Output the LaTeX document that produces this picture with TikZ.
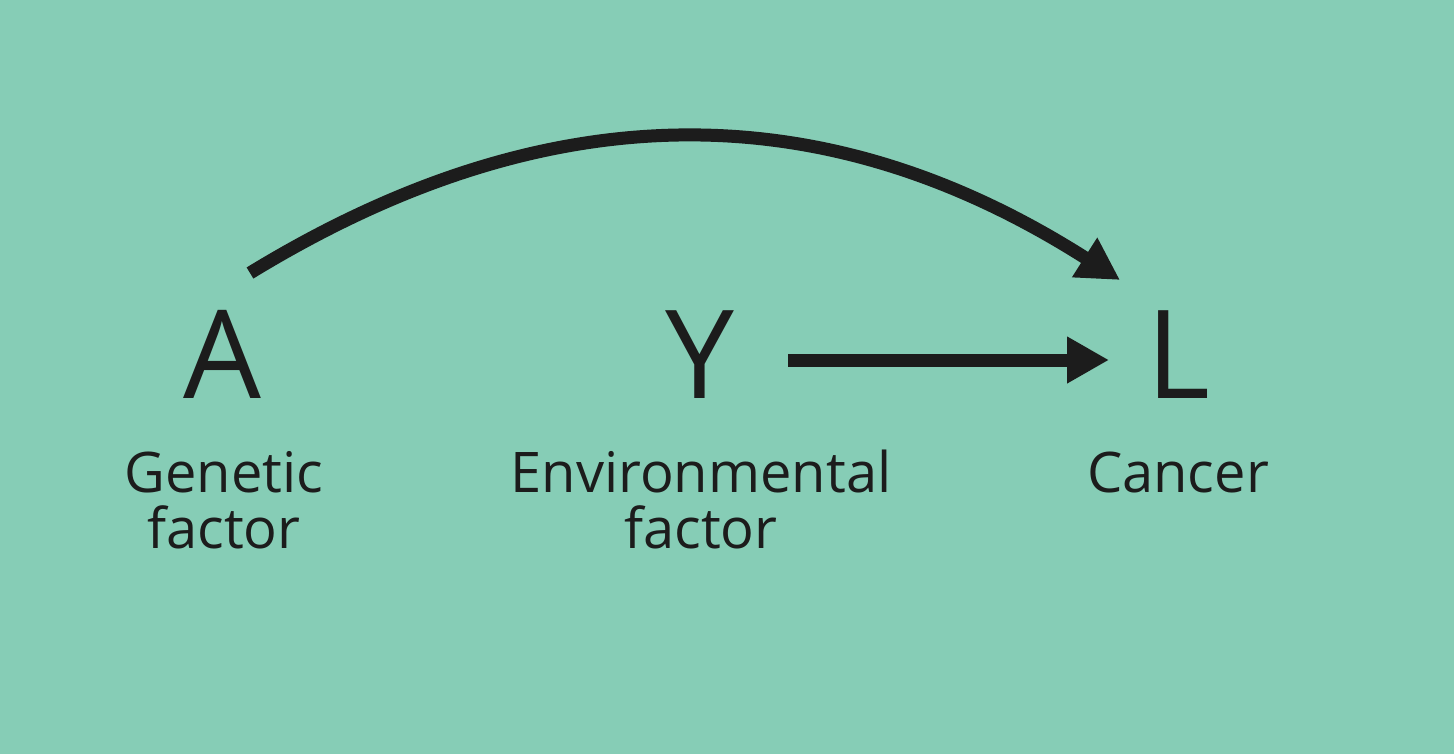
\documentclass[tikz,border=0pt]{standalone}
\usepackage{fontspec}
\setmainfont{Open Sans}
\usetikzlibrary{arrows.meta}
\definecolor{bgc}{RGB}{134,205,182}
\definecolor{ink}{RGB}{28,28,28}
\tikzset{
  bigletter/.style={anchor=base, text=ink, inner sep=0pt, font=\fontsize{123}{123}\selectfont},
  lbl/.style={anchor=base, text=ink, inner sep=0pt, align=center, font=\fontsize{56}{56}\selectfont},
  arr/.style={draw=ink, line width=13pt, -{Triangle[length=42pt,width=44pt]}}
}
\begin{document}
\begin{tikzpicture}[x=1pt,y=-1pt]
\fill[bgc] (0,0) rectangle (1454,754);
\useasboundingbox (0,0) rectangle (1454,754);
\node[bigletter] (A) at (222,398) {A};
\node[bigletter] (Y) at (700,398) {Y};
\node[bigletter] (L) at (1178,398) {L};
\node[lbl] (Alab) at (224,548) {Genetic\\factor};
\node[lbl] (Ylab) at (701,548) {Environmental\\factor};
\node[lbl] (Llab) at (1178,492) {Cancer};
\coordinate (Aout) at (250,273);
\coordinate (Lin) at (1120,280);
\coordinate (Yout) at (788,360);
\coordinate (Lleft) at (1109,360);
\draw[arr] (Aout) .. controls (520,108) and (800,76) .. (Lin);
\draw[arr] (Yout) -- (Lleft);
\end{tikzpicture}
\end{document}
